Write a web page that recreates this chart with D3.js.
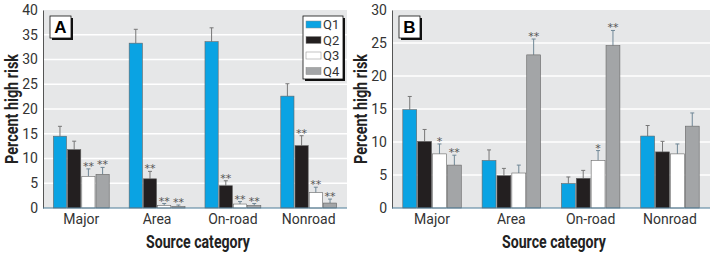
<!DOCTYPE html>
<html>
<head>
<meta charset="utf-8">
<script src="https://cdn.jsdelivr.net/npm/d3@7"></script>
<style>
  body { margin: 0; background: #fff; }
  svg { display: block; }
  .tick text, .cat { font-family: Roboto, "Liberation Sans", sans-serif; font-size: 14px; fill: #333; }
  .title { font-family: Roboto, "Liberation Sans", sans-serif; font-weight: bold; font-size: 19px; fill: #222; }
  .star { font-family: "DejaVu Sans", sans-serif; font-size: 11px; fill: #555; }
</style>
</head>
<body>
<div id="chart"></div>
<script>
// categories and series
var CATEGORIES = ['Major', 'Area', 'On-road', 'Nonroad'];
var QUARTILES = ['Q1', 'Q2', 'Q3', 'Q4'];
var COLORS = ['#0aa3e3', '#231f20', '#ffffff', '#a3a5a7'];

// Panel A: bar heights (rows = category, cols = Q1..Q4), upper error limits, significance marks
var A_VALUES = [[14.5, 11.8, 6.4, 6.8], [33.3, 5.9, 0.5, 0.3], [33.6, 4.5, 0.8, 0.5], [22.6, 12.6, 3.1, 1.0]];
var A_ERRORS = [[16.5, 13.5, 7.9, 8.2], [36.1, 7.4, 0.9, 0.6], [36.4, 5.5, 1.3, 0.9], [25.1, 14.6, 4.2, 1.8]];
var A_STARS = [['', '', '**', '**'], ['', '**', '**', '**'], ['', '**', '**', '**'], ['', '**', '**', '**']];
var A_TICKS = [0, 5, 10, 15, 20, 25, 30, 35, 40];

// Panel B
var B_VALUES = [[14.9, 10.1, 8.2, 6.5], [7.2, 4.9, 5.3, 23.2], [3.7, 4.5, 7.2, 24.6], [10.9, 8.5, 8.2, 12.4]];
var B_ERRORS = [[16.9, 11.9, 9.7, 8.0], [8.8, 6.0, 6.5, 25.6], [4.7, 5.7, 8.7, 26.9], [12.5, 10.1, 9.7, 14.4]];
var B_STARS = [['', '', '*', '**'], ['', '', '', '**'], ['', '', '*', '**'], ['', '', '', '']];
var B_TICKS = [0, 5, 10, 15, 20, 25, 30];

var svg = d3.select('#chart').append('svg')
  .attr('width', 715).attr('height', 254);

function panel(opts) {
  var top = 10, bottom = 208;
  var g = svg.append('g');

  var x0 = d3.scaleBand().domain(CATEGORIES)
    .range([opts.left, opts.right]).paddingInner(0.25).paddingOuter(0.13);
  var x1 = d3.scaleBand().domain(QUARTILES).range([0, x0.bandwidth()]);
  var y = d3.scaleLinear().domain([0, d3.max(opts.ticks)]).range([bottom, top]);

  // plot background
  g.append('rect')
    .attr('x', opts.left).attr('y', top)
    .attr('width', opts.right - opts.left).attr('height', bottom - top)
    .attr('fill', '#e6e7e8');

  // white gridlines
  g.selectAll('.grid').data(opts.ticks.slice(1, -1)).enter().append('line')
    .attr('x1', opts.left).attr('x2', opts.right)
    .attr('y1', d => y(d)).attr('y2', d => y(d))
    .attr('stroke', '#fff').attr('stroke-width', 1.5);

  // Y axis
  var yAxis = g.append('g')
    .attr('transform', 'translate(' + opts.left + ',0)')
    .call(d3.axisLeft(y).tickValues(opts.ticks).tickSize(0).tickPadding(5));
  yAxis.select('.domain').attr('stroke', '#555');
  yAxis.selectAll('.tick text').attr('font-size', null).attr('font-family', null);

  // bars
  var groups = g.selectAll('.grp').data(opts.values).enter().append('g')
    .attr('transform', (d, i) => 'translate(' + x0(CATEGORIES[i]) + ',0)');

  groups.each(function(row, ci) {
    var grp = d3.select(this);
    row.forEach(function(v, qi) {
      var bx = x1(QUARTILES[qi]), bw = x1.bandwidth();
      var err = opts.errors[ci][qi];
      var cx = bx + bw / 2;
      var ec = qi >= 2 ? '#6f8796' : '#777';
      // error bar
      grp.append('line')
        .attr('x1', cx).attr('x2', cx).attr('y1', y(v)).attr('y2', y(err))
        .attr('stroke', ec).attr('stroke-width', 1);
      grp.append('line')
        .attr('x1', cx - 2).attr('x2', cx + 2).attr('y1', y(err)).attr('y2', y(err))
        .attr('stroke', ec).attr('stroke-width', 1);
      grp.append('rect')
        .attr('x', bx + 0.5).attr('y', y(v))
        .attr('width', bw - 1).attr('height', bottom - y(v))
        .attr('fill', COLORS[qi]).attr('stroke', '#666').attr('stroke-width', 0.6);
      var s = opts.stars[ci][qi];
      if (s) {
        grp.append('text').attr('class', 'star')
          .attr('x', cx).attr('y', y(err) + 1)
          .attr('text-anchor', 'middle')
          .attr('fill', qi == 3 ? '#4a7ea3' : '#555')
          .text(s);
      }
    });
  });

  // baseline
  g.append('line')
    .attr('x1', opts.left).attr('x2', opts.right)
    .attr('y1', bottom).attr('y2', bottom)
    .attr('stroke', '#4d7d99').attr('stroke-width', 1);

  // category labels
  g.selectAll('.cat').data(CATEGORIES).enter().append('text')
    .attr('class', 'cat')
    .attr('x', d => x0(d) + x0.bandwidth() / 2).attr('y', 224)
    .attr('text-anchor', 'middle')
    .text(d => d);

  // axis titles
  g.append('text').attr('class', 'title')
    .attr('x', (opts.left + opts.right) / 2 + 3).attr('y', 248)
    .attr('text-anchor', 'middle')
    .attr('textLength', 104).attr('lengthAdjust', 'spacingAndGlyphs')
    .text('Source category');
  g.append('text').attr('class', 'title')
    .attr('transform', 'translate(' + (opts.left - 25) + ',' + ((top + bottom) / 2) + ') rotate(-90)')
    .attr('text-anchor', 'middle')
    .attr('textLength', 110).attr('lengthAdjust', 'spacingAndGlyphs')
    .text('Percent high risk');

  // panel letter box
  var lx = opts.left + 7, ly = 16;
  g.append('rect').attr('x', lx + 2).attr('y', ly + 2).attr('width', 21).attr('height', 22).attr('fill', '#111');
  g.append('rect').attr('x', lx).attr('y', ly).attr('width', 21).attr('height', 22)
    .attr('fill', '#fff').attr('stroke', '#111').attr('stroke-width', 0.8);
  g.append('text').attr('x', lx + 10.5).attr('y', ly + 17)
    .attr('text-anchor', 'middle')
    .style('font-family', '"Liberation Sans", sans-serif').style('font-weight', 'bold').style('font-size', '17px')
    .text(opts.letter);

  // legend
  if (opts.legend) {
    var lgx = 303, lgy = 16;
    g.append('rect').attr('x', lgx + 2).attr('y', lgy + 2).attr('width', 40).attr('height', 63).attr('fill', '#111');
    g.append('rect').attr('x', lgx).attr('y', lgy).attr('width', 40).attr('height', 63)
      .attr('fill', '#fff').attr('stroke', '#111').attr('stroke-width', 0.8);
    QUARTILES.forEach(function(q, i) {
      var ry = lgy + 5 + i * 15.5;
      g.append('rect').attr('x', lgx + 3).attr('y', ry).attr('width', 15).attr('height', 7)
        .attr('fill', COLORS[i]).attr('stroke', '#888').attr('stroke-width', 0.5);
      g.append('text').attr('class', 'cat').attr('x', lgx + 20).attr('y', ry + 8)
        .style('font-size', '13px')
        .text(q);
    });
  }
}

panel({ left: 43, right: 347, values: A_VALUES, errors: A_ERRORS, stars: A_STARS, ticks: A_TICKS, letter: 'A', legend: true });
panel({ left: 392, right: 710, values: B_VALUES, errors: B_ERRORS, stars: B_STARS, ticks: B_TICKS, letter: 'B', legend: false });
</script>
</body>
</html>
